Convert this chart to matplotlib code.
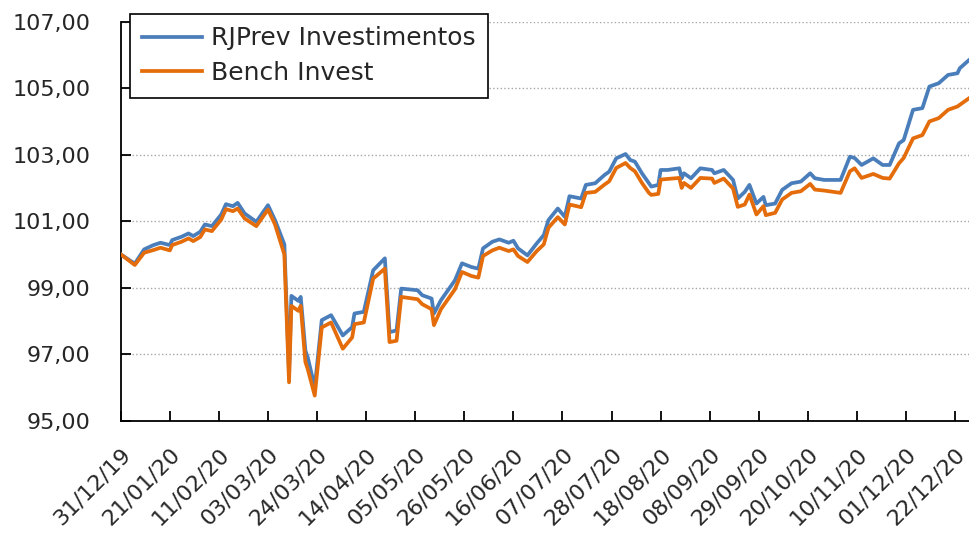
import matplotlib
matplotlib.use('Agg')
import matplotlib.pyplot as plt
import pandas as pd

# values
dates = ['2019-12-31', '2020-01-06', '2020-01-10', '2020-01-14', '2020-01-17', '2020-01-21',
         '2020-01-22', '2020-01-26', '2020-01-29', '2020-01-31', '2020-02-03', '2020-02-05',
         '2020-02-08', '2020-02-12', '2020-02-14', '2020-02-17', '2020-02-19', '2020-02-22',
         '2020-02-27', '2020-03-03', '2020-03-06', '2020-03-10', '2020-03-12', '2020-03-13',
         '2020-03-16', '2020-03-17', '2020-03-19', '2020-03-20', '2020-03-23', '2020-03-26',
         '2020-03-30', '2020-04-04', '2020-04-08', '2020-04-09', '2020-04-13', '2020-04-17',
         '2020-04-22', '2020-04-24', '2020-04-27', '2020-04-29', '2020-05-06', '2020-05-08',
         '2020-05-12', '2020-05-13', '2020-05-16', '2020-05-22', '2020-05-25', '2020-05-29',
         '2020-06-01', '2020-06-03', '2020-06-07', '2020-06-10', '2020-06-14', '2020-06-16',
         '2020-06-18', '2020-06-22', '2020-06-26', '2020-06-29', '2020-07-01', '2020-07-05',
         '2020-07-08', '2020-07-10', '2020-07-15', '2020-07-17', '2020-07-21', '2020-07-25',
         '2020-07-27', '2020-07-30', '2020-08-03', '2020-08-05', '2020-08-07', '2020-08-10',
         '2020-08-13', '2020-08-14', '2020-08-17', '2020-08-18', '2020-08-21', '2020-08-26',
         '2020-08-27', '2020-08-28', '2020-08-31', '2020-09-04', '2020-09-09', '2020-09-10',
         '2020-09-14', '2020-09-18', '2020-09-20', '2020-09-23', '2020-09-25', '2020-09-28',
         '2020-10-01', '2020-10-02', '2020-10-06', '2020-10-09', '2020-10-13', '2020-10-17',
         '2020-10-21', '2020-10-23', '2020-10-27', '2020-11-03', '2020-11-07', '2020-11-09',
         '2020-11-12', '2020-11-17', '2020-11-21', '2020-11-24', '2020-11-28', '2020-11-30',
         '2020-12-04', '2020-12-08', '2020-12-11', '2020-12-15', '2020-12-19', '2020-12-23',
         '2020-12-24', '2020-12-28', '2020-12-29']

rjprev = [100.00, 99.72, 100.15, 100.28, 100.35, 100.28,
          100.43, 100.53, 100.63, 100.55, 100.68, 100.90,
          100.85, 101.20, 101.51, 101.45, 101.55, 101.23,
          100.98, 101.48, 101.03, 100.30, 96.40, 98.75,
          98.60, 98.72, 97.10, 96.90, 96.00, 98.02,
          98.17, 97.56, 97.81, 98.22, 98.27, 99.52,
          99.88, 97.66, 97.71, 98.97, 98.92, 98.77,
          98.67, 98.22, 98.62, 99.22, 99.73, 99.62,
          99.57, 100.18, 100.38, 100.45, 100.35, 100.41,
          100.18, 99.97, 100.33, 100.58, 101.03, 101.38,
          101.13, 101.75, 101.68, 102.09, 102.14, 102.39,
          102.49, 102.89, 103.02, 102.84, 102.79, 102.44,
          102.14, 102.04, 102.09, 102.54, 102.54, 102.59,
          102.29, 102.44, 102.29, 102.59, 102.54, 102.44,
          102.54, 102.24, 101.68, 101.88, 102.09, 101.53,
          101.73, 101.48, 101.53, 101.94, 102.14, 102.19,
          102.44, 102.29, 102.24, 102.24, 102.94, 102.90,
          102.69, 102.89, 102.69, 102.69, 103.34, 103.44,
          104.35, 104.40, 105.05, 105.15, 105.40, 105.45,
          105.60, 105.85, 105.90]

bench = [100.00, 99.68, 100.05, 100.13, 100.20, 100.12,
         100.28, 100.38, 100.48, 100.40, 100.52, 100.75,
         100.70, 101.05, 101.36, 101.30, 101.38, 101.08,
         100.85, 101.35, 100.90, 100.00, 96.15, 98.45,
         98.30, 98.45, 96.76, 96.55, 95.75, 97.80,
         97.95, 97.16, 97.50, 97.90, 97.95, 99.27,
         99.57, 97.36, 97.40, 98.72, 98.65, 98.50,
         98.35, 97.87, 98.35, 98.95, 99.47, 99.35,
         99.30, 99.95, 100.12, 100.20, 100.10, 100.15,
         99.95, 99.77, 100.10, 100.30, 100.80, 101.12,
         100.90, 101.50, 101.42, 101.85, 101.88, 102.10,
         102.20, 102.60, 102.75, 102.60, 102.50, 102.15,
         101.85, 101.79, 101.82, 102.25, 102.27, 102.30,
         102.00, 102.15, 102.00, 102.30, 102.28, 102.15,
         102.28, 101.98, 101.43, 101.50, 101.80, 101.20,
         101.45, 101.18, 101.25, 101.65, 101.85, 101.90,
         102.12, 101.95, 101.92, 101.85, 102.50, 102.59,
         102.30, 102.42, 102.30, 102.28, 102.74, 102.90,
         103.49, 103.59, 104.00, 104.10, 104.35, 104.45,
         104.50, 104.70, 104.75]

tick_dates = pd.date_range('2019-12-31', '2020-12-22', freq='21D')
y_ticks = [95, 97, 99, 101, 103, 105, 107]

plt.rcParams['font.family'] = 'DejaVu Sans'

x = pd.to_datetime(dates)
fig = plt.figure(figsize=(9.7, 5.44), dpi=100)
ax = fig.add_axes([0.1245, 0.227, 0.877, 0.733])

ax.plot(x, rjprev, color='#4a7ebb', lw=2.7, label='RJPrev Investimentos', zorder=3)
ax.plot(x, bench, color='#e46c0a', lw=2.7, label='Bench Invest', zorder=4)

ax.set_ylim(95, 107)
ax.set_xlim(pd.Timestamp('2019-12-31'), pd.Timestamp('2020-12-29'))
ax.set_yticks(y_ticks)
ax.set_yticklabels(['{:.2f}'.format(v).replace('.', ',') for v in y_ticks])
ax.set_xticks(tick_dates)
ax.set_xticklabels([d.strftime('%d/%m/%y') for d in tick_dates], rotation=45,
                   ha='right', rotation_mode='anchor')

ax.grid(axis='y', linestyle=':', color='#a6a6a6', lw=1)
ax.set_axisbelow(True)
for s in ['top', 'right']:
    ax.spines[s].set_visible(False)
for s in ['left', 'bottom']:
    ax.spines[s].set_linewidth(1.3)
ax.tick_params(axis='y', direction='in', length=7, width=1.3, labelsize=16, pad=22, labelcolor='#262626')
ax.tick_params(axis='x', direction='in', length=7, width=1.3, labelsize=16, pad=17, labelcolor='#262626')

leg = ax.legend(loc='upper left', bbox_to_anchor=(130 / 970, 1 - 14 / 544),
                bbox_transform=fig.transFigure, fontsize=18, frameon=True,
                fancybox=False, edgecolor='black', handlelength=2.4,
                borderaxespad=0, borderpad=0.5, labelspacing=0.42, handletextpad=0.35)
leg.get_frame().set_linewidth(1.2)
leg.get_frame().set_facecolor('white')
leg.get_frame().set_alpha(1)
for t in leg.get_texts():
    t.set_color('#262626')

plt.savefig('out.png', dpi=100)
plt.close()
